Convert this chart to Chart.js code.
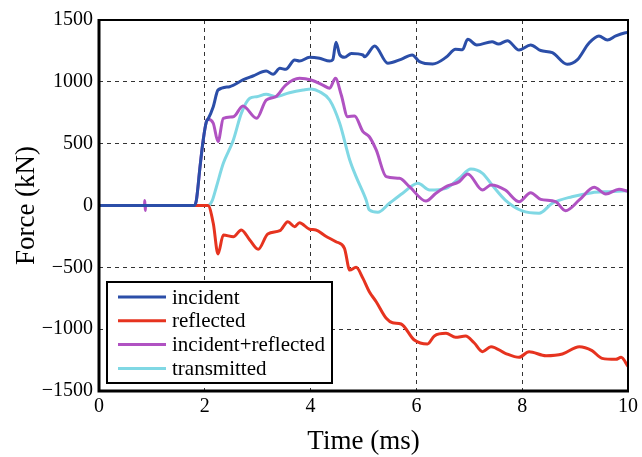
<!DOCTYPE html>
<html>
<head>
<meta charset="utf-8">
<script src="https://cdn.jsdelivr.net/npm/chart.js@4/dist/chart.umd.min.js"></script>
<style>
  html, body { margin: 0; padding: 0; background: #fff; }
  #wrap { width: 642px; height: 457px; }
</style>
</head>
<body>
<div id="wrap"><canvas id="forceChart" width="642" height="457"></canvas></div>
<script>
// Señales de la barra Hopkinson (fuerza en kN frente a tiempo en ms)
const incidentT = [0, 1.80, 1.84, 1.91, 1.97, 2.03, 2.06, 2.16, 2.25, 2.47, 2.72, 2.91, 3.16, 3.29, 3.42, 3.53, 3.70, 3.79, 3.98, 4.17, 4.36, 4.42, 4.48, 4.55, 4.64, 4.77, 4.99, 5.02, 5.21, 5.46, 5.71, 5.92, 6.06, 6.31, 6.56, 6.74, 6.87, 6.97, 7.14, 7.43, 7.55, 7.72, 7.94, 8.16, 8.35, 8.57, 8.85, 9.04, 9.26, 9.45, 9.61, 9.77, 9.95, 10];
const incidentF = [0, 0, 40, 314, 530, 678, 697, 799, 934, 961, 1015, 1047, 1088, 1061, 1109, 1101, 1177, 1168, 1198, 1190, 1168, 1180, 1320, 1220, 1198, 1230, 1217, 1203, 1290, 1150, 1182, 1217, 1163, 1144, 1198, 1263, 1260, 1344, 1298, 1325, 1305, 1333, 1257, 1298, 1253, 1236, 1142, 1177, 1312, 1371, 1338, 1371, 1397, 1400];

const reflectedT = [0, 2.06, 2.16, 2.25, 2.35, 2.54, 2.69, 2.85, 3.01, 3.19, 3.42, 3.57, 3.70, 3.79, 3.98, 4.10, 4.28, 4.48, 4.64, 4.74, 4.86, 4.99, 5.11, 5.24, 5.43, 5.55, 5.71, 5.96, 6.21, 6.34, 6.56, 6.74, 6.93, 7.09, 7.25, 7.41, 7.68, 7.94, 8.13, 8.45, 8.76, 9.08, 9.32, 9.51, 9.77, 9.87, 10];
const reflectedF = [0, 0, -144, -392, -239, -252, -198, -279, -354, -230, -204, -131, -171, -139, -192, -198, -247, -293, -346, -522, -500, -589, -697, -778, -912, -948, -958, -1088, -1120, -1055, -1034, -1066, -1056, -1110, -1182, -1142, -1195, -1228, -1182, -1215, -1201, -1142, -1174, -1236, -1244, -1228, -1300];

const sumT = [0, 0.86, 0.865, 0.875, 0.88, 1.80, 1.84, 1.91, 1.97, 2.03, 2.06, 2.16, 2.25, 2.35, 2.54, 2.72, 2.98, 3.16, 3.34, 3.53, 3.79, 4.01, 4.23, 4.36, 4.47, 4.58, 4.70, 4.83, 4.99, 5.11, 5.24, 5.43, 5.68, 5.87, 6.18, 6.37, 6.59, 6.81, 6.97, 7.25, 7.41, 7.68, 7.94, 8.16, 8.35, 8.63, 8.82, 9.08, 9.36, 9.58, 9.83, 10];
const sumF = [0, 0, 40, -40, 0, 0, 40, 314, 530, 678, 697, 665, 516, 705, 718, 804, 705, 853, 880, 974, 1028, 1015, 974, 948, 1028, 894, 718, 724, 597, 556, 449, 233, 220, 152, 36, 99, 158, 193, 255, 125, 166, 125, 31, 104, 50, 31, -42, 45, 147, 93, 131, 115];

const transmittedT = [0, 2.06, 2.14, 2.22, 2.35, 2.54, 2.69, 2.85, 2.98, 3.16, 3.34, 3.60, 3.86, 4.01, 4.17, 4.36, 4.55, 4.74, 4.86, 5.05, 5.11, 5.27, 5.49, 5.74, 6.03, 6.25, 6.56, 6.81, 7.03, 7.25, 7.43, 7.68, 8.0, 8.32, 8.57, 8.94, 9.32, 9.64, 10];
const transmittedF = [0, 0, 40, 152, 341, 530, 745, 867, 880, 899, 880, 912, 934, 942, 920, 853, 665, 368, 233, 44, -36, -55, 18, 99, 180, 125, 139, 220, 295, 260, 166, 44, -44, -63, 18, 71, 104, 112, 120];

const xTicks = [0, 2, 4, 6, 8, 10];
const yTicks = [-1500, -1000, -500, 0, 500, 1000, 1500];

const serifFont = "'Liberation Serif', 'Times New Roman', serif";

const toPoints = (ts, fs) => ts.map((t, i) => ({ x: t, y: fs[i] }));

// Marco negro alrededor del área de trazado
const framePlugin = {
  id: 'frame',
  afterDatasetsDraw(chart) {
    const { ctx, chartArea: a } = chart;
    ctx.save();
    ctx.strokeStyle = '#000';
    ctx.lineWidth = 2;
    ctx.strokeRect(a.left, a.top, a.right - a.left, a.bottom - a.top);
    ctx.lineWidth = 3;
    ctx.beginPath();
    ctx.moveTo(a.left, a.top - 1);
    ctx.lineTo(a.left, a.bottom);
    ctx.lineTo(a.right + 1, a.bottom);
    ctx.stroke();
    ctx.restore();
  }
};

// Leyenda dentro del gráfico, abajo a la izquierda
const boxLegend = {
  id: 'boxLegend',
  afterDraw(chart) {
    const { ctx, chartArea: a } = chart;
    const x0 = a.left + 8, y0 = 282, w = 225, h = 101;
    ctx.save();
    ctx.fillStyle = '#fff';
    ctx.fillRect(x0, y0, w, h);
    ctx.strokeStyle = '#000';
    ctx.lineWidth = 2;
    ctx.strokeRect(x0, y0, w, h);
    ctx.font = '21px ' + serifFont;
    ctx.textBaseline = 'middle';
    chart.data.datasets.forEach((ds, i) => {
      const y = y0 + 15 + i * 23.8;
      ctx.strokeStyle = ds.borderColor;
      ctx.lineWidth = 3;
      ctx.beginPath();
      ctx.moveTo(x0 + 11, y);
      ctx.lineTo(x0 + 59, y);
      ctx.stroke();
      ctx.fillStyle = '#000';
      ctx.fillText(ds.label, x0 + 65, y + 1);
    });
    ctx.restore();
  }
};

const mkSet = (label, color, ts, fs) => ({
  label,
  data: toPoints(ts, fs),
  borderColor: color,
  borderWidth: 3,
  pointRadius: 0,
  fill: false,
  cubicInterpolationMode: 'monotone'
});

new Chart(document.getElementById('forceChart'), {
  type: 'line',
  data: {
    datasets: [
      mkSet('incident', '#2b4ea8', incidentT, incidentF),
      mkSet('reflected', '#e6331f', reflectedT, reflectedF),
      mkSet('incident+reflected', '#b052c2', sumT, sumF),
      mkSet('transmitted', '#80d8e4', transmittedT, transmittedF)
    ]
  },
  options: {
    responsive: false,
    animation: false,
    devicePixelRatio: 1,
    layout: { padding: { top: 20, right: 13, bottom: 0, left: 0 } },
    plugins: {
      legend: { display: false },
      tooltip: { enabled: false }
    },
    scales: {
      x: {
        type: 'linear',
        min: 0,
        max: 10,
        afterBuildTicks: s => { s.ticks = xTicks.map(v => ({ value: v })); },
        afterFit: s => { s.height = 66; },
        grid: { color: '#333', lineWidth: 1, drawTicks: false },
        border: { display: false, dash: [4, 4] },
        ticks: {
          color: '#000',
          padding: 4,
          maxRotation: 0,
          font: { family: serifFont, size: 20 },
          callback: v => String(v)
        },
        title: {
          display: true,
          text: 'Time (ms)',
          color: '#000',
          font: { family: serifFont, size: 27, lineHeight: 1.1 },
          padding: { top: 0, bottom: 0 }
        }
      },
      y: {
        min: -1500,
        max: 1500,
        afterBuildTicks: s => { s.ticks = yTicks.map(v => ({ value: v })); },
        afterFit: s => { s.width = 99; },
        grid: { color: '#333', lineWidth: 1, drawTicks: false },
        border: { display: false, dash: [4, 4] },
        ticks: {
          color: '#000',
          padding: 6,
          font: { family: serifFont, size: 20 },
          callback: v => String(v).replace('-', '\u2212')
        },
        title: {
          display: true,
          text: 'Force (kN)',
          color: '#000',
          font: { family: serifFont, size: 27, lineHeight: 1.2 },
          padding: { top: 11, bottom: 0 }
        }
      }
    }
  },
  plugins: [framePlugin, boxLegend]
});
</script>
</body>
</html>
